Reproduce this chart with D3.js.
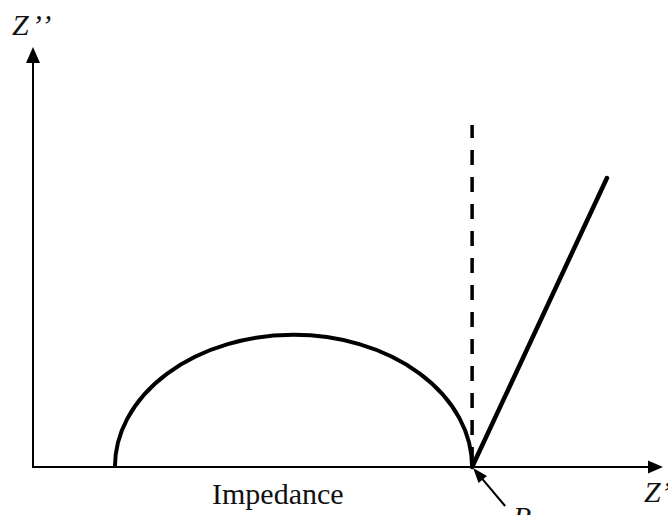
<!DOCTYPE html>
<html>
<head>
  <meta charset="utf-8">
  <style>
body {
  margin: 0;
  background: #fff;
}

svg {
  display: block;
}

text {
  font-family: "Liberation Serif", "DejaVu Serif", "Times New Roman", serif;
}
  </style>
</head>
<body>
  <svg id="chart" width="668" height="515"></svg>
  <script src="https://cdn.jsdelivr.net/npm/d3@7"></script>
  <script>
// Axis extents (arbitrary units)
var zReMax = 10,
    zImMax = 6.67;

// Semicircle: from Rs to R, with its peak height
var arcStart = 1.3,
    arcEnd = 6.97,
    arcPeak = 2.1;

// Warburg line and vertical dashed line (Z', Z'')
var warburgRe = [6.97, 9.11],
    warburgIm = [0, 4.59];
var dashRe = [6.97, 6.97],
    dashIm = [0, 5.43];

// Labels
var yLabel = ["Z", "\u2019", "\u2019"],
    xLabel = ["Z", "\u2019"],
    title = ["Impedance"],
    rLabel = ["R"];

var svg = d3.select("#chart"),
    x = d3.scaleLinear().domain([0, zReMax]).range([33, 663]),
    y = d3.scaleLinear().domain([0, zImMax]).range([467, 47]);

var serif = "'Liberation Serif', 'DejaVu Serif', 'Times New Roman', serif";

// Filled triangle with its tip at (tx, ty), pointing along angle
function arrowHead(tx, ty, angle, len, wid) {
  var c = Math.cos(angle), s = Math.sin(angle);
  var bx = tx - c * len, by = ty - s * len;
  var p = d3.path();
  p.moveTo(tx, ty);
  p.lineTo(bx - s * wid / 2, by + c * wid / 2);
  p.lineTo(bx + s * wid / 2, by - c * wid / 2);
  p.closePath();
  svg.append("path").attr("d", p.toString()).attr("fill", "#000");
}

// Axes
svg.append("line")
  .attr("x1", x(0)).attr("y1", y(0))
  .attr("x2", x(zReMax) - 8).attr("y2", y(0))
  .attr("stroke", "#000").attr("stroke-width", 2);
arrowHead(x(zReMax), y(0), 0, 15, 13);

svg.append("line")
  .attr("x1", x(0)).attr("y1", y(0) + 1)
  .attr("x2", x(0)).attr("y2", y(zImMax) + 8)
  .attr("stroke", "#000").attr("stroke-width", 2);
arrowHead(x(0), y(zImMax), -Math.PI / 2, 16, 14);

// Dashed vertical line
var line = d3.line()
  .x(function(d) { return x(d[0]); })
  .y(function(d) { return y(d[1]); });

svg.append("path")
  .attr("d", line(d3.zip(dashRe, dashIm)))
  .attr("fill", "none")
  .attr("stroke", "#000")
  .attr("stroke-width", 3.5)
  .attr("stroke-dasharray", "15,12")
  .attr("stroke-dashoffset", -5);

// Semicircle
var rx = (x(arcEnd) - x(arcStart)) / 2,
    ry = y(0) - y(arcPeak);
svg.append("path")
  .attr("d", "M" + x(arcStart) + "," + y(0) +
    "A" + rx + "," + ry + " 0 0 1 " + x(arcEnd) + "," + y(0))
  .attr("fill", "none")
  .attr("stroke", "#000")
  .attr("stroke-width", 4);

// Warburg line
svg.append("path")
  .attr("d", line(d3.zip(warburgRe, warburgIm)))
  .attr("fill", "none")
  .attr("stroke", "#000")
  .attr("stroke-width", 4.5)
  .attr("stroke-linecap", "round");

// Arrow pointing at R
var rx0 = x(arcEnd) + 1, ry0 = y(0) + 1;
var tailX = rx0 + 32, tailY = ry0 + 38;
var ang = Math.atan2(ry0 - tailY, rx0 - tailX);
svg.append("line")
  .attr("x1", tailX).attr("y1", tailY)
  .attr("x2", rx0 - Math.cos(ang) * 8).attr("y2", ry0 - Math.sin(ang) * 8)
  .attr("stroke", "#000").attr("stroke-width", 2);
arrowHead(rx0, ry0, ang, 15, 11);

// Texts (gap = extra space between the parts, like the primes of Z'')
function label(tx, ty, parts, italic, gap) {
  svg.append("text")
    .attr("x", tx).attr("y", ty)
    .attr("font-family", serif)
    .attr("font-size", 30)
    .attr("font-style", italic ? "italic" : "normal")
    .attr("fill", "#111")
    .selectAll("tspan")
    .data(parts)
    .enter().append("tspan")
      .attr("dx", function(d, i) { return i > 0 ? gap : 0; })
      .text(function(d) { return d; });
}

label(12, 35, yLabel, true, 3);
label(644, 502, xLabel, true, 0);
label(212, 504, title, false, 0);
label(513, 527, rLabel, true, 0);
  </script>
</body>
</html>
